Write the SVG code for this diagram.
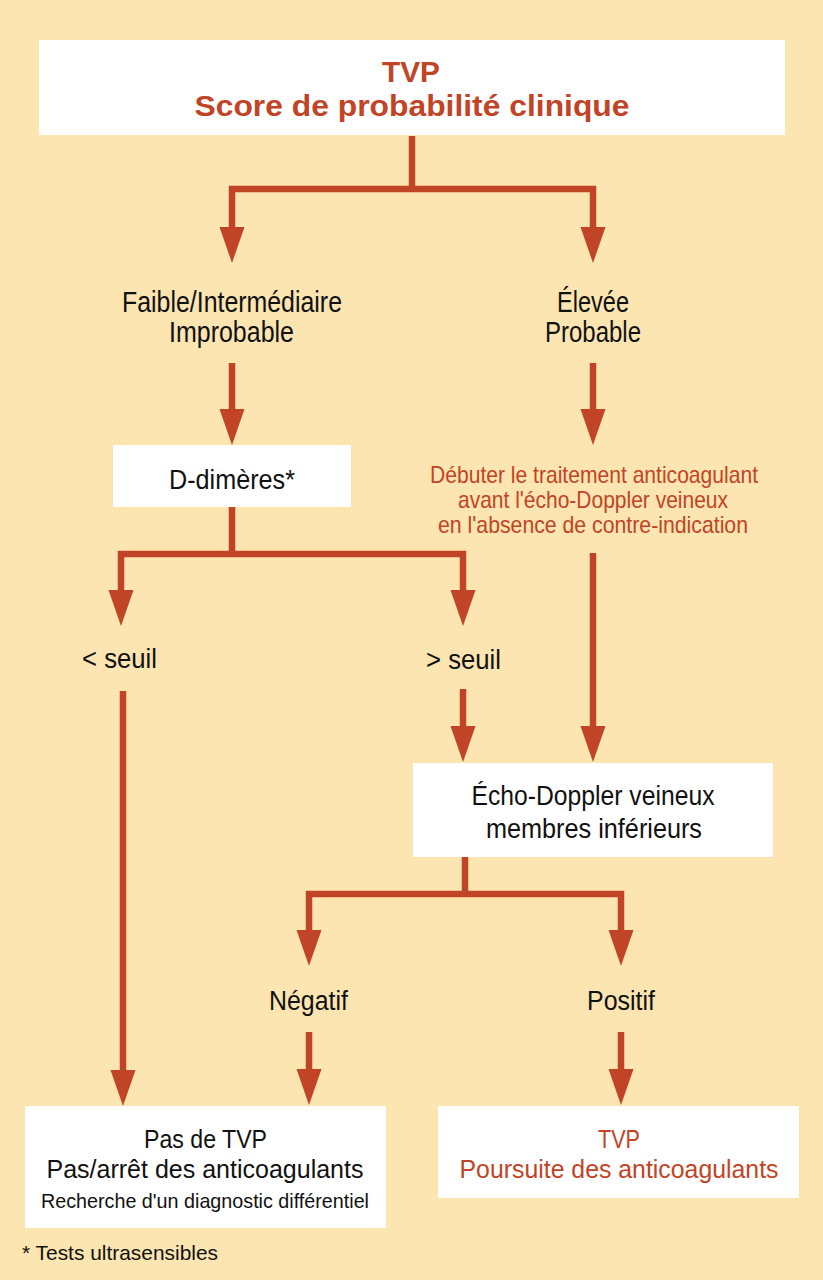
<svg xmlns="http://www.w3.org/2000/svg" xmlns:xlink="http://www.w3.org/1999/xlink" width="823" height="1280" viewBox="0 0 823 1280">
<style>
.box{fill:#ffffff;}
.t{font-family:"Liberation Sans",Arial,sans-serif;fill:#111111;text-anchor:middle;}
.r{fill:#c14426;}
.b{font-weight:bold;}
.ln{fill:none;stroke:#c14426;stroke-width:6.5;stroke-linejoin:miter;stroke-linecap:butt;}
.ah{fill:#c14426;}
</style>
<defs>
<path id="ah" class="ah" d="M-12.5 0 L12.5 0 L0 36 Z"/>
</defs>
<rect x="0" y="0" width="823" height="1280" fill="#fce5b0"/>

<g id="connectors">
<path class="ln" d="M412 136 V189"/>
<path class="ln" d="M232 229 V189 H593 V229"/>
<use xlink:href="#ah" x="232" y="227"/>
<use xlink:href="#ah" x="593" y="227"/>
<path class="ln" d="M232 363 V410"/>
<use xlink:href="#ah" x="232" y="409"/>
<path class="ln" d="M593 363 V410"/>
<use xlink:href="#ah" x="593" y="409"/>
<path class="ln" d="M232 507 V554"/>
<path class="ln" d="M121 591 V554 H463 V591"/>
<use xlink:href="#ah" x="121" y="590"/>
<use xlink:href="#ah" x="463" y="590"/>
<path class="ln" d="M593 553 V727"/>
<use xlink:href="#ah" x="593" y="726"/>
<path class="ln" d="M463 689 V727"/>
<use xlink:href="#ah" x="463" y="726"/>
<path class="ln" d="M123 691 V1071"/>
<use xlink:href="#ah" x="123" y="1070"/>
<path class="ln" d="M465 857 V894"/>
<path class="ln" d="M309 931 V894 H621 V931"/>
<use xlink:href="#ah" x="309" y="930"/>
<use xlink:href="#ah" x="621" y="930"/>
<path class="ln" d="M309 1032 V1070"/>
<use xlink:href="#ah" x="309" y="1069"/>
<path class="ln" d="M621 1032 V1070"/>
<use xlink:href="#ah" x="621" y="1069"/>
</g>

<g id="n-top">
<rect class="box" x="39" y="40" width="746" height="95"/>
<text class="t r b" x="411" y="82" font-size="29" textLength="58" lengthAdjust="spacingAndGlyphs">TVP</text>
<text class="t r b" x="412" y="116" font-size="29" textLength="435" lengthAdjust="spacingAndGlyphs">Score de probabilité clinique</text>
</g>

<g id="n-faible">
<text class="t" x="232" y="312" font-size="29" textLength="220" lengthAdjust="spacingAndGlyphs">Faible/Intermédiaire</text>
<text class="t" x="231.5" y="342" font-size="29" textLength="125" lengthAdjust="spacingAndGlyphs">Improbable</text>
</g>

<g id="n-elevee">
<text class="t" x="593" y="312" font-size="29" textLength="72" lengthAdjust="spacingAndGlyphs">Élevée</text>
<text class="t" x="593" y="342" font-size="29" textLength="96" lengthAdjust="spacingAndGlyphs">Probable</text>
</g>

<g id="n-ddimeres">
<rect class="box" x="113" y="445" width="238" height="62"/>
<text class="t" x="232" y="489" font-size="28" textLength="126" lengthAdjust="spacingAndGlyphs">D-dimères*</text>
</g>

<g id="n-debuter">
<text class="t r" x="594" y="483" font-size="24" textLength="328" lengthAdjust="spacingAndGlyphs">Débuter le traitement anticoagulant</text>
<text class="t r" x="593" y="508" font-size="24" textLength="270" lengthAdjust="spacingAndGlyphs">avant l'écho-Doppler veineux</text>
<text class="t r" x="593" y="533" font-size="24" textLength="310" lengthAdjust="spacingAndGlyphs">en l'absence de contre-indication</text>
</g>

<g id="n-inf-seuil">
<text class="t" x="119.5" y="668" font-size="27" textLength="75" lengthAdjust="spacingAndGlyphs">&lt; seuil</text>
</g>

<g id="n-sup-seuil">
<text class="t" x="463.5" y="669" font-size="27" textLength="75" lengthAdjust="spacingAndGlyphs">&gt; seuil</text>
</g>

<g id="n-echo">
<rect class="box" x="413" y="763" width="360" height="94"/>
<text class="t" x="593" y="805" font-size="27" textLength="243" lengthAdjust="spacingAndGlyphs">Écho-Doppler veineux</text>
<text class="t" x="594" y="838" font-size="27" textLength="216" lengthAdjust="spacingAndGlyphs">membres inférieurs</text>
</g>

<g id="n-negatif">
<text class="t" x="308.5" y="1010" font-size="27" textLength="79" lengthAdjust="spacingAndGlyphs">Négatif</text>
</g>

<g id="n-positif">
<text class="t" x="621" y="1010" font-size="27" textLength="68" lengthAdjust="spacingAndGlyphs">Positif</text>
</g>

<g id="n-pas-tvp">
<rect class="box" x="25" y="1106" width="361" height="122"/>
<text class="t" x="205.5" y="1148" font-size="26" textLength="123" lengthAdjust="spacingAndGlyphs">Pas de TVP</text>
<text class="t" x="205" y="1178" font-size="26" textLength="317" lengthAdjust="spacingAndGlyphs">Pas/arrêt des anticoagulants</text>
<text class="t" x="205" y="1208" font-size="21" textLength="328" lengthAdjust="spacingAndGlyphs">Recherche d'un diagnostic différentiel</text>
</g>

<g id="n-tvp">
<rect class="box" x="438" y="1106" width="361" height="92"/>
<text class="t r" x="619" y="1148" font-size="26" textLength="42" lengthAdjust="spacingAndGlyphs">TVP</text>
<text class="t r" x="619" y="1178" font-size="26" textLength="319" lengthAdjust="spacingAndGlyphs">Poursuite des anticoagulants</text>
</g>

<g id="footnote">
<text class="t" x="22" y="1260" font-size="21" style="text-anchor:start" textLength="196" lengthAdjust="spacingAndGlyphs">* Tests ultrasensibles</text>
</g>
</svg>
